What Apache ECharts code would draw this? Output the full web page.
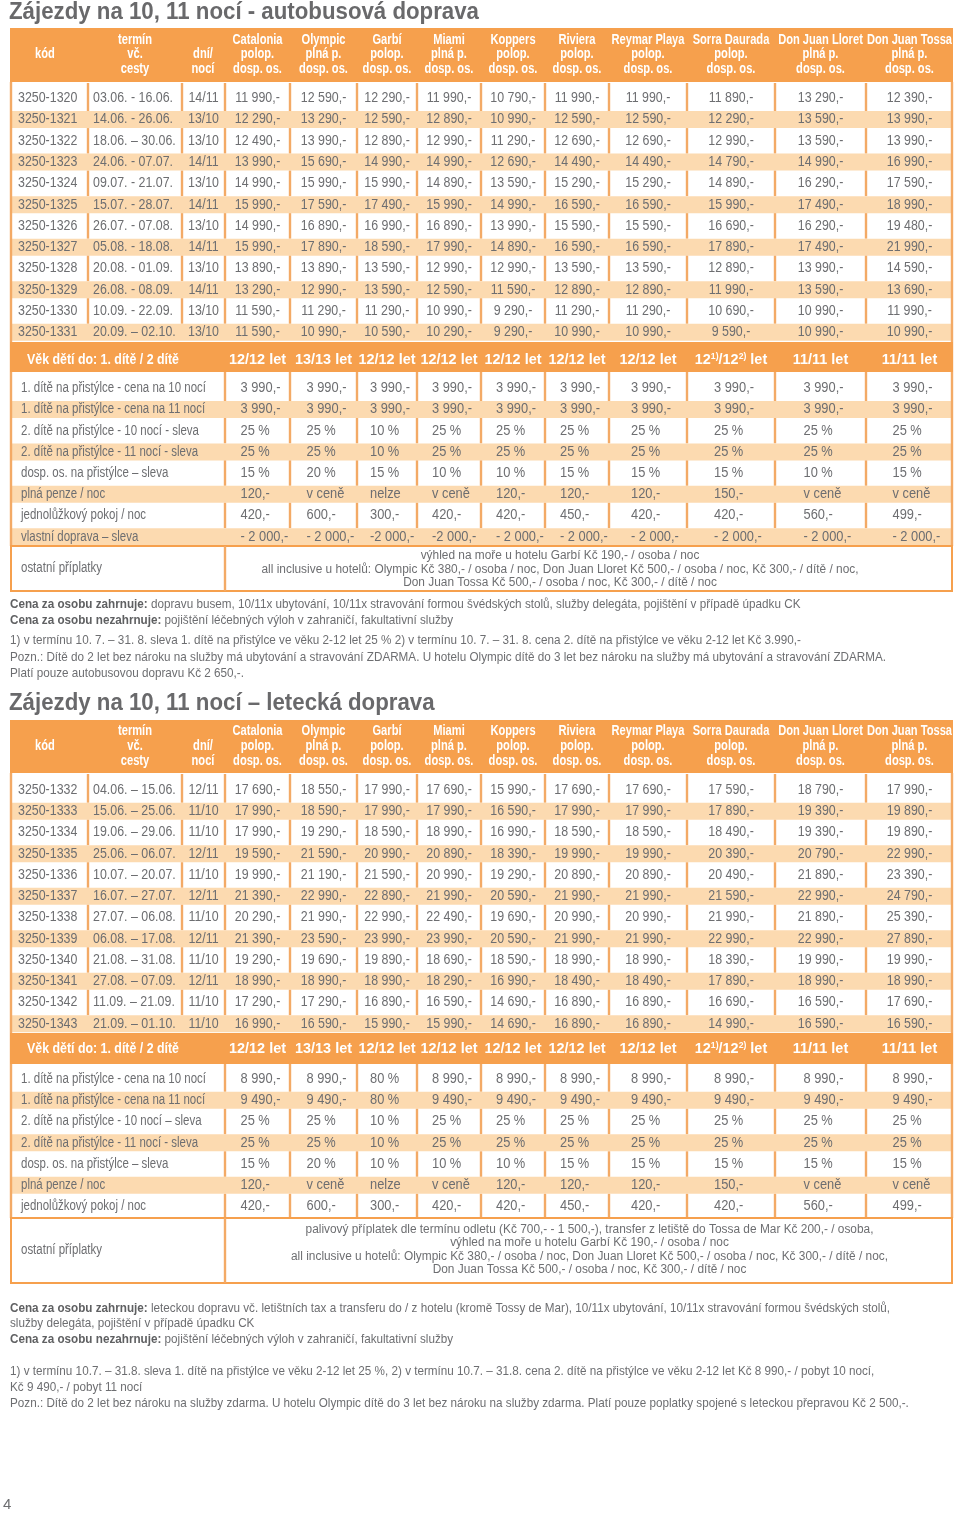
<!DOCTYPE html>
<html>
<head>
<meta charset="utf-8">
<script src="https://cdn.jsdelivr.net/npm/echarts@6/dist/echarts.min.js"></script>
<style>
html,body{margin:0;padding:0;background:#ffffff;}
#chart{width:960px;height:1513px;}
</style>
</head>
<body>
<div id="chart"></div>
<script>
// ================= DATA =================
const title1 = "Zájezdy na 10, 11 nocí - autobusová doprava";
const title2 = "Zájezdy na 10, 11 nocí – letecká doprava";
const pageNumber = "4";

const headKod = "kód";
const headTermin = ["termín", "vč.", "cesty"];
const headDni = ["dní/", "nocí"];
const hotels = ["Catalonia", "Olympic", "Garbí", "Miami", "Koppers", "Riviera", "Reymar Playa", "Sorra Daurada", "Don Juan Lloret", "Don Juan Tossa"];
const boards = ["polop.", "plná p.", "polop.", "plná p.", "polop.", "polop.", "polop.", "polop.", "plná p.", "plná p."];
const perPerson = "dosp. os.";

const ageLabel = "Věk dětí do: 1. dítě / 2 dítě";
const ages = ["12/12 let", "13/13 let", "12/12 let", "12/12 let", "12/12 let", "12/12 let", "12/12 let", "12{s|1)}/12{s|2)} let", "11/11 let", "11/11 let"];
const otherLabel = "ostatní příplatky";

// ---- bus table ----
const busCodes = ["3250-1320", "3250-1321", "3250-1322", "3250-1323", "3250-1324", "3250-1325", "3250-1326", "3250-1327", "3250-1328", "3250-1329", "3250-1330", "3250-1331"];
const busDates = ["03.06. - 16.06.", "14.06. - 26.06.", "18.06. – 30.06.", "24.06. - 07.07.", "09.07. - 21.07.", "15.07. - 28.07.", "26.07. - 07.08.", "05.08. - 18.08.", "20.08. - 01.09.", "26.08. - 08.09.", "10.09. - 22.09.", "20.09. – 02.10."];
const busDays = ["14/11", "13/10", "13/10", "14/11", "13/10", "14/11", "13/10", "14/11", "13/10", "14/11", "13/10", "13/10"];
const busPrices = [
  [11990, 12590, 12290, 11990, 10790, 11990, 11990, 11890, 13290, 12390],
  [12290, 13290, 12590, 12890, 10990, 12590, 12590, 12290, 13590, 13990],
  [12490, 13990, 12890, 12990, 11290, 12690, 12690, 12990, 13590, 13990],
  [13990, 15690, 14990, 14990, 12690, 14490, 14490, 14790, 14990, 16990],
  [14990, 15990, 15990, 14890, 13590, 15290, 15290, 14890, 16290, 17590],
  [15990, 17590, 17490, 15990, 14990, 16590, 16590, 15990, 17490, 18990],
  [14990, 16890, 16990, 16890, 13990, 15590, 15590, 16690, 16290, 19480],
  [15990, 17890, 18590, 17990, 14890, 16590, 16590, 17890, 17490, 21990],
  [13890, 13890, 13590, 12990, 12990, 13590, 13590, 12890, 13990, 14590],
  [13290, 12990, 13590, 12590, 11590, 12890, 12890, 11990, 13590, 13690],
  [11590, 11290, 11290, 10990, 9290, 11290, 11290, 10690, 10990, 11990],
  [11590, 10990, 10590, 10290, 9290, 10990, 10990, 9590, 10990, 10990]
];
const busLowLabels = ["1. dítě na přistýlce - cena na 10 nocí", "1. dítě na přistýlce - cena na 11 nocí", "2. dítě na přistýlce - 10 nocí - sleva", "2. dítě na přistýlce - 11 nocí - sleva", "dosp. os. na přistýlce – sleva", "plná penze / noc", "jednolůžkový pokoj / noc", "vlastní doprava – sleva"];
const busLowValues = [
  ["3 990,-", "3 990,-", "3 990,-", "3 990,-", "3 990,-", "3 990,-", "3 990,-", "3 990,-", "3 990,-", "3 990,-"],
  ["3 990,-", "3 990,-", "3 990,-", "3 990,-", "3 990,-", "3 990,-", "3 990,-", "3 990,-", "3 990,-", "3 990,-"],
  ["25 %", "25 %", "10 %", "25 %", "25 %", "25 %", "25 %", "25 %", "25 %", "25 %"],
  ["25 %", "25 %", "10 %", "25 %", "25 %", "25 %", "25 %", "25 %", "25 %", "25 %"],
  ["15 %", "20 %", "15 %", "10 %", "10 %", "15 %", "15 %", "15 %", "10 %", "15 %"],
  ["120,-", "v ceně", "nelze", "v ceně", "120,-", "120,-", "120,-", "150,-", "v ceně", "v ceně"],
  ["420,-", "600,-", "300,-", "420,-", "420,-", "450,-", "420,-", "420,-", "560,-", "499,-"],
  ["- 2 000,-", "- 2 000,-", "-2 000,-", "-2 000,-", "- 2 000,-", "- 2 000,-", "- 2 000,-", "- 2 000,-", "- 2 000,-", "- 2 000,-"]
];
const busOther = [
  "výhled na moře u hotelu Garbí Kč 190,- / osoba / noc",
  "all inclusive u hotelů: Olympic Kč 380,- / osoba / noc, Don Juan Lloret Kč 500,- / osoba / noc, Kč 300,- / dítě / noc,",
  "Don Juan Tossa Kč 500,- / osoba / noc, Kč 300,- / dítě / noc"
];
const busFooter = [
  ["Cena za osobu zahrnuje:", " dopravu busem, 10/11x ubytování, 10/11x stravování formou švédských stolů, služby delegáta, pojištění v případě úpadku CK"],
  ["Cena za osobu nezahrnuje:", " pojištění léčebných výloh v zahraničí, fakultativní služby"],
  ["", "1) v termínu 10. 7. – 31. 8. sleva 1. dítě na přistýlce ve věku 2-12 let 25 % 2) v termínu 10. 7. – 31. 8. cena 2. dítě na přistýlce ve věku 2-12 let Kč 3.990,-"],
  ["", "Pozn.: Dítě do 2 let bez nároku na služby má ubytování a stravování ZDARMA. U hotelu Olympic dítě do 3 let bez nároku na služby má ubytování a stravování ZDARMA."],
  ["", "Platí pouze autobusovou dopravu Kč 2 650,-."]
];

// ---- air table ----
const airCodes = ["3250-1332", "3250-1333", "3250-1334", "3250-1335", "3250-1336", "3250-1337", "3250-1338", "3250-1339", "3250-1340", "3250-1341", "3250-1342", "3250-1343"];
const airDates = ["04.06. – 15.06.", "15.06. – 25.06.", "19.06. – 29.06.", "25.06. – 06.07.", "10.07. – 20.07.", "16.07. – 27.07.", "27.07. – 06.08.", "06.08. – 17.08.", "21.08. – 31.08.", "27.08. – 07.09.", "11.09. – 21.09.", "21.09. – 01.10."];
const airDays = ["12/11", "11/10", "11/10", "12/11", "11/10", "12/11", "11/10", "12/11", "11/10", "12/11", "11/10", "11/10"];
const airPrices = [
  [17690, 18550, 17990, 17690, 15990, 17690, 17690, 17590, 18790, 17990],
  [17990, 18590, 17990, 17990, 16590, 17990, 17990, 17890, 19390, 19890],
  [17990, 19290, 18590, 18990, 16990, 18590, 18590, 18490, 19390, 19890],
  [19590, 21590, 20990, 20890, 18390, 19990, 19990, 20390, 20790, 22990],
  [19990, 21190, 21590, 20990, 19290, 20890, 20890, 20490, 21890, 23390],
  [21390, 22990, 22890, 21990, 20590, 21990, 21990, 21590, 22990, 24790],
  [20290, 21990, 22990, 22490, 19690, 20990, 20990, 21990, 21890, 25390],
  [21390, 23590, 23990, 23990, 20590, 21990, 21990, 22990, 22990, 27890],
  [19290, 19690, 19890, 18690, 18590, 18990, 18990, 18390, 19990, 19990],
  [18990, 18990, 18990, 18290, 16990, 18490, 18490, 17890, 18990, 18990],
  [17290, 17290, 16890, 16590, 14690, 16890, 16890, 16690, 16590, 17690],
  [16990, 16590, 15990, 15990, 14690, 16890, 16890, 14990, 16590, 16590]
];
const airLowLabels = ["1. dítě na přistýlce - cena na 10 nocí", "1. dítě na přistýlce - cena na 11 nocí", "2. dítě na přistýlce - 10 nocí – sleva", "2. dítě na přistýlce - 11 nocí - sleva", "dosp. os. na přistýlce – sleva", "plná penze / noc", "jednolůžkový pokoj / noc"];
const airLowValues = [
  ["8 990,-", "8 990,-", "80 %", "8 990,-", "8 990,-", "8 990,-", "8 990,-", "8 990,-", "8 990,-", "8 990,-"],
  ["9 490,-", "9 490,-", "80 %", "9 490,-", "9 490,-", "9 490,-", "9 490,-", "9 490,-", "9 490,-", "9 490,-"],
  ["25 %", "25 %", "10 %", "25 %", "25 %", "25 %", "25 %", "25 %", "25 %", "25 %"],
  ["25 %", "25 %", "10 %", "25 %", "25 %", "25 %", "25 %", "25 %", "25 %", "25 %"],
  ["15 %", "20 %", "10 %", "10 %", "10 %", "15 %", "15 %", "15 %", "15 %", "15 %"],
  ["120,-", "v ceně", "nelze", "v ceně", "120,-", "120,-", "120,-", "150,-", "v ceně", "v ceně"],
  ["420,-", "600,-", "300,-", "420,-", "420,-", "450,-", "420,-", "420,-", "560,-", "499,-"]
];
const airOther = [
  "palivový příplatek dle termínu odletu (Kč 700,- - 1 500,-), transfer z letiště do Tossa de Mar Kč 200,- / osoba,",
  "výhled na moře u hotelu Garbí Kč 190,- / osoba / noc",
  "all inclusive u hotelů: Olympic Kč 380,- / osoba / noc, Don Juan Lloret Kč 500,- / osoba / noc, Kč 300,- / dítě / noc,",
  "Don Juan Tossa Kč 500,- / osoba / noc, Kč 300,- / dítě / noc"
];
const airFooter = [
  ["Cena za osobu zahrnuje:", " leteckou dopravu vč. letištních tax a transferu do / z hotelu (kromě Tossy de Mar), 10/11x ubytování, 10/11x stravování formou švédských stolů,"],
  ["", "služby delegáta, pojištění v případě úpadku CK"],
  ["Cena za osobu nezahrnuje:", " pojištění léčebných výloh v zahraničí, fakultativní služby"],
  ["", "1) v termínu 10.7. – 31.8. sleva 1. dítě na přistýlce ve věku 2-12 let 25 %, 2) v termínu 10.7. – 31.8. cena 2. dítě na přistýlce ve věku 2-12 let Kč 8 990,- / pobyt 10 nocí,"],
  ["", "Kč 9 490,- / pobyt 11 nocí"],
  ["", "Pozn.: Dítě do 2 let bez nároku na služby zdarma. U hotelu Olympic dítě do 3 let bez nároku na služby zdarma. Platí pouze poplatky spojené s leteckou přepravou Kč 2 500,-."]
];

// ================= LAYOUT / STYLE =================
const FONT = '"Liberation Sans", Arial, sans-serif';
const C = { orange: '#f6a04d', stripe: '#fcdab0', line: '#f3aa66', text: '#6d6e71', bold: '#5f6062', title: '#69696b', white: '#ffffff' };
const COLS = [10, 88, 182, 225, 290, 357, 417, 481, 545, 609, 687, 775, 866, 953];
const HALF_STRIPE = 8.5;
const VALUE_OFFSET = -17;
const LAYOUTS = [
  { title: 13, headTop: 28, headBot: 82, headLines: [40, 54.5, 69.5], row0: 98.3, pitch: 21.27,
    bandTop: 342, bandBot: 372, bandText: 359.5, low0: 388.3, lowPitch: 21.2,
    boxTop: 546, boxBot: 591, boxLine0: 556, boxPitch: 13.3, boxCenter: 560,
    foot: [604, 620, 640, 657, 673] },
  { title: 704, headTop: 720, headBot: 773, headLines: [731.5, 746.5, 761.5], row0: 790, pitch: 21.25,
    bandTop: 1033, bandBot: 1064, bandText: 1048.5, low0: 1079, lowPitch: 21.27,
    boxTop: 1218, boxBot: 1283, boxLine0: 1229.5, boxPitch: 13.3, boxCenter: 589.5,
    foot: [1308, 1323.5, 1339, 1371, 1387, 1403] }
];
const PAGE_POS = [3, 1505];

// text classes: size, weight, and a horizontal calibration (sample string -> width in reference)
const _ctx = document.createElement('canvas').getContext('2d');
function measure(str, size, weight) {
  _ctx.font = (weight || 'normal') + ' ' + size + 'px ' + FONT;
  return _ctx.measureText(str).width;
}
function cls(size, weight, sample, width) {
  return { size: size, weight: weight, sx: width / measure(sample, size, weight) };
}
const TX = {
  title: cls(23, 'bold', title1, 470),
  head: cls(14, 'bold', "Reymar Playa", 73),
  data: cls(14, 'normal', "03.06. - 16.06.", 80),
  band: cls(15, 'bold', ageLabel, 152),
  age: cls(15, 'bold', "12/12 let", 57),
  label: cls(14, 'normal', busLowLabels[0], 185),
  value: cls(14, 'normal', "3 990,-", 40),
  box: cls(12.5, 'normal', busOther[1], 597),
  foot: cls(13, 'normal', busFooter[3][1], 876)
};

function fmtPrice(v) {
  return String(v).replace(/\B(?=(\d{3})+(?!\d))/g, ' ') + ',-';
}
function hotelCenter(i) { return (COLS[3 + i] + COLS[4 + i]) / 2; }

// ---- element helpers (all positions go through the axes via api.coord) ----
function T(P, x, y, str, k, o) {
  const a = P(x, y);
  const s = Object.assign({ text: str, fill: C.text, fontFamily: FONT, fontSize: k.size, fontWeight: k.weight, align: 'left', verticalAlign: 'middle' }, o || {});
  s.textAlign = s.align; s.textVerticalAlign = s.verticalAlign;
  return { type: 'text', x: a[0], y: a[1], scaleX: k.sx, silent: true, style: s };
}
function R(P, x0, y0, x1, y1, fill, stroke) {
  const a = P(x0, y0), b = P(x1, y1);
  const st = { fill: fill };
  if (stroke) { st.stroke = stroke; st.lineWidth = 2; }
  return { type: 'rect', silent: true, shape: { x: a[0], y: a[1], width: b[0] - a[0], height: b[1] - a[1] }, style: st };
}
function V(P, x, y0, y1, w) {
  const a = P(x, y0), b = P(x, y1);
  return { type: 'line', silent: true, shape: { x1: a[0], y1: a[1], x2: b[0], y2: b[1] }, style: { stroke: C.line, lineWidth: w || 2.4 } };
}

// ---- parts ----
const PARTS = [];

function addTable(L, d) {
  PARTS.push(P => [T(P, 9, L.title, d.title, TX.title, { fill: C.title })]);
  // header
  PARTS.push(P => {
    const hs = { fill: C.white, align: 'center' };
    const els = [R(P, 10, L.headTop, 953, L.headBot, C.orange)];
    els.push(T(P, 45, L.headLines[1], headKod, TX.head, hs));
    headTermin.forEach((s, k) => els.push(T(P, 135, L.headLines[k], s, TX.head, hs)));
    headDni.forEach((s, k) => els.push(T(P, 203, L.headLines[k + 1], s, TX.head, hs)));
    hotels.forEach((h, i) => {
      [h, boards[i], perPerson].forEach((s, k) => els.push(T(P, hotelCenter(i), L.headLines[k], s, TX.head, hs)));
    });
    return els;
  });
  // data rows
  d.codes.forEach((code, i) => {
    PARTS.push(P => {
      const y = L.row0 + i * L.pitch;
      const els = [];
      if (i % 2 === 1) {
        els.push(R(P, 10, y - HALF_STRIPE, 953, y + HALF_STRIPE, C.stripe));
      } else {
        const y0 = i === 0 ? L.headBot + 1 : y - (L.pitch - HALF_STRIPE);
        const y1 = y + (L.pitch - HALF_STRIPE);
        for (let k = 1; k < COLS.length - 1; k++) els.push(V(P, COLS[k], y0, y1));
      }
      els.push(T(P, 18, y, code, TX.data));
      els.push(T(P, 93, y, d.dates[i], TX.data));
      els.push(T(P, 203.5, y, d.days[i], TX.data, { align: 'center' }));
      d.prices[i].forEach((v, h) => els.push(T(P, hotelCenter(h), y, fmtPrice(v), TX.data, { align: 'center' })));
      return els;
    });
  });
  // lower rows
  d.lowLabels.forEach((lab, j) => {
    PARTS.push(P => {
      const y = L.low0 + j * L.lowPitch;
      const els = [];
      if (j % 2 === 1) {
        els.push(R(P, 10, y - HALF_STRIPE, 953, y + HALF_STRIPE, C.stripe));
      } else {
        const y0 = j === 0 ? L.bandBot : y - (L.lowPitch - HALF_STRIPE);
        const y1 = y + (L.lowPitch - HALF_STRIPE);
        for (let k = 3; k < COLS.length - 1; k++) els.push(V(P, COLS[k], y0, y1));
      }
      els.push(T(P, 21, y, lab, TX.label));
      d.lowValues[j].forEach((v, h) => els.push(T(P, hotelCenter(h) + VALUE_OFFSET, y, v, TX.value)));
      return els;
    });
  });
  // outer frame lines
  PARTS.push(P => [V(P, 11, L.headBot, L.boxTop), V(P, 952, L.headBot, L.boxTop)]);
  // age band
  PARTS.push(P => {
    const els = [R(P, 10, L.bandTop, 953, L.bandBot, C.orange)];
    els.push(T(P, 27, L.bandText, ageLabel, TX.band, { fill: C.white }));
    ages.forEach((a, h) => els.push(T(P, hotelCenter(h), L.bandText, a, TX.age, {
      fill: C.white, align: 'center',
      rich: { s: { fontSize: 9, fontWeight: 'bold', fill: C.white, fontFamily: FONT, verticalAlign: 'top' } }
    })));
    return els;
  });
  // other surcharges box
  PARTS.push(P => {
    const els = [R(P, 11, L.boxTop, 952, L.boxBot, C.white, C.orange), V(P, 225, L.boxTop, L.boxBot)];
    els.push(T(P, 21, (L.boxTop + L.boxBot) / 2, otherLabel, TX.label));
    d.other.forEach((s, k) => els.push(T(P, L.boxCenter, L.boxLine0 + k * L.boxPitch, s, TX.box, { align: 'center' })));
    return els;
  });
  // footer
  PARTS.push(P => d.footer.map((f, k) => {
    const str = (f[0] ? '{b|' + f[0] + '}' : '') + f[1];
    return T(P, 10, L.foot[k], str, TX.foot, {
      rich: { b: { fontSize: 13, fontWeight: 'bold', fill: C.bold, fontFamily: FONT } }
    });
  }));
}

addTable(LAYOUTS[0], { title: title1, codes: busCodes, dates: busDates, days: busDays, prices: busPrices,
  lowLabels: busLowLabels, lowValues: busLowValues, other: busOther, footer: busFooter });
addTable(LAYOUTS[1], { title: title2, codes: airCodes, dates: airDates, days: airDays, prices: airPrices,
  lowLabels: airLowLabels, lowValues: airLowValues, other: airOther, footer: airFooter });
PARTS.push(P => [T(P, PAGE_POS[0], PAGE_POS[1], pageNumber, { size: 15, weight: 'normal', sx: 1 })]);

// ================= CHART =================
const chart = echarts.init(document.getElementById('chart'), null, { renderer: 'canvas' });
chart.setOption({
  animation: false,
  backgroundColor: '#ffffff',
  grid: { left: 0, right: 0, top: 0, bottom: 0 },
  xAxis: { type: 'value', min: 0, max: 960, show: false },
  yAxis: { type: 'value', min: 0, max: 1513, inverse: true, show: false },
  series: [{
    type: 'custom',
    coordinateSystem: 'cartesian2d',
    clip: false,
    silent: true,
    data: PARTS.map((p, i) => [i, 0]),
    encode: { x: 0, y: 1 },
    renderItem: function (params, api) {
      const idx = api.value(0);
      const P = (x, y) => api.coord([x, y]);
      return { type: 'group', children: PARTS[idx](P) };
    }
  }]
});
</script>
</body>
</html>
